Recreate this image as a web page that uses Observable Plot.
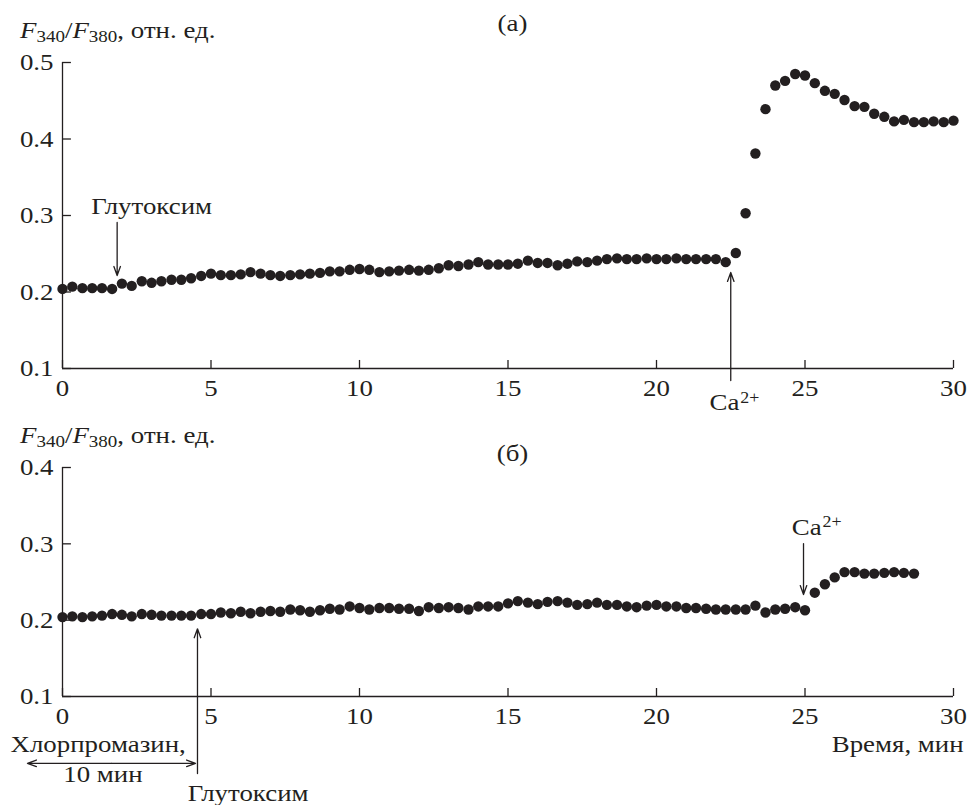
<!DOCTYPE html>
<html><head><meta charset="utf-8">
<script src="https://cdn.jsdelivr.net/npm/d3@7"></script>
<script src="https://cdn.jsdelivr.net/npm/@observablehq/plot@0.6"></script>
<style>
body{margin:0;background:#fff;}
#chart{width:971px;height:805px;position:relative;overflow:hidden;background:#fff;}
#chart svg{display:block;overflow:visible;font-family:"Liberation Serif","Times New Roman",serif;}
#chart svg text, #chart svg tspan{font-family:"Liberation Serif","Times New Roman",serif !important;}
</style></head><body><div id="chart"></div>
<script>
// Panel (а): time, min
const timeA = [0,0.33,0.67,1,1.33,1.67,2,2.33,2.67,3,3.33,3.67,4,4.33,4.67,5,5.33,5.67,6,6.33,6.67,7,7.33,7.67,8,8.33,8.67,9,9.33,9.67,10,10.33,10.67,11,11.33,11.67,12,12.33,12.67,13,13.33,13.67,14,14.33,14.67,15,15.33,15.67,16,16.33,16.67,17,17.33,17.67,18,18.33,18.67,19,19.33,19.67,20,20.33,20.67,21,21.33,21.67,22,22.33,22.67,23,23.33,23.67,24,24.33,24.67,25,25.33,25.67,26,26.33,26.67,27,27.33,27.67,28,28.33,28.67,29,29.33,29.67,30];
// Panel (а): F340/F380
const ratioA = [0.204,0.207,0.205,0.205,0.205,0.204,0.211,0.208,0.214,0.212,0.214,0.216,0.216,0.218,0.221,0.224,0.222,0.222,0.223,0.226,0.224,0.222,0.221,0.222,0.223,0.224,0.225,0.227,0.227,0.229,0.230,0.229,0.226,
0.227,0.228,0.229,0.228,0.229,0.231,0.235,0.234,0.236,0.239,0.236,0.236,0.236,0.237,0.241,0.238,0.238,0.235,0.237,0.240,0.239,0.241,0.243,0.244,0.243,0.243,0.244,0.243,0.243,0.244,0.243,0.243,
0.243,0.243,0.239,0.251,0.303,0.381,0.439,0.470,0.476,0.485,0.483,0.473,0.463,0.459,0.451,0.443,0.442,0.433,0.429,0.423,0.425,0.422,0.422,0.423,0.422,0.424];
// Panel (б): time, min
const timeB = [0,0.33,0.67,1,1.33,1.67,2,2.33,2.67,3,3.33,3.67,4,4.33,4.67,5,5.33,5.67,6,6.33,6.67,7,7.33,7.67,8,8.33,8.67,9,9.33,9.67,10,10.33,10.67,11,11.33,11.67,12,12.33,12.67,13,13.33,13.67,14,14.33,14.67,15,15.33,15.67,16,16.33,16.67,17,17.33,17.67,18,18.33,18.67,19,19.33,19.67,20,20.33,20.67,21,21.33,21.67,22,22.33,22.67,23,23.33,23.67,24,24.33,24.67,25,25.33,25.67,26,26.33,26.67,27,27.33,27.67,28,28.33,28.67];
// Panel (б): F340/F380
const ratioB = [0.204,0.205,0.204,0.205,0.206,0.208,0.207,0.205,0.208,0.207,0.206,0.206,0.206,0.206,0.208,0.208,0.210,0.209,0.211,0.209,0.211,0.212,0.211,0.214,0.213,0.211,0.213,0.215,0.214,0.218,0.216,0.214,
0.216,
0.216,0.215,0.215,0.212,0.217,0.216,0.217,0.216,0.214,0.218,0.218,0.218,0.222,0.225,0.223,0.221,0.224,0.225,0.223,0.220,0.221,0.223,0.220,0.220,0.218,0.217,0.219,0.220,0.218,0.218,0.216,
0.216,0.215,0.214,0.214,0.214,0.214,0.219,0.210,0.214,0.215,0.217,0.213,0.236,0.247,0.256,0.263,0.263,0.261,0.261,0.262,0.263,0.262,0.261];

const xTicks = [0,5,10,15,20,25,30];
const yTicksA = [0.1,0.2,0.3,0.4,0.5];
const yTicksB = [0.1,0.2,0.3,0.4];
const panelLabels = ["(а)", "(б)"];
const xLabel = "Время, мин";

const ink = "#231f20";
const font = "Liberation Serif";
const lw = 1.3;
const stretchX = 1.12;

const dataA = timeA.map((t, i) => ({t, v: ratioA[i]}));
const dataB = timeB.map((t, i) => ({t, v: ratioB[i]}));

function frame(yTicks, yMin, yMax) {
  return [
    Plot.ruleX([0], {y1: yMin, y2: yMax, stroke: ink, strokeWidth: lw}),
    Plot.ruleY([yMin], {x1: 0, x2: 30, stroke: ink, strokeWidth: lw}),
    Plot.ruleY(yTicks, {x1: 0, x2: 0.3, stroke: ink, strokeWidth: lw}),
    Plot.ruleX(xTicks, {y1: yMin, y2: yMin + 0.0105, stroke: ink, strokeWidth: lw})
  ];
}
const txt = (s, o) => Plot.text([s], {text: d => d, fill: ink, lineAnchor: "bottom", fontFamily: font, ...o});
const arr = (o) => Plot.arrow([0], {stroke: ink, strokeWidth: lw, headLength: 11, headAngle: 40, ...o});

const common = {
  width: 971,
  marginLeft: 62, marginRight: 18,
  style: {fontFamily: font, fontSize: "24px", color: ink, background: "white", overflow: "visible"}
};

const plotA = Plot.plot({
  ...common,
  height: 418, marginTop: 62, marginBottom: 50,
  x: {domain: [0, 30], ticks: xTicks, tickSize: 0, tickPadding: 10, tickFormat: d => String(d), label: null},
  y: {domain: [0.1, 0.5], ticks: yTicksA, tickSize: 0, tickPadding: 9, tickFormat: d3.format(".1f"), label: null},
  marks: [
    ...frame(yTicksA, 0.1, 0.5),
    Plot.dot(dataA, {x: "t", y: "v", r: 5.2, fill: ink, stroke: "none"}),
    txt(panelLabels[0], {x: 15.15, y: 0.5418, textAnchor: "middle"}),
    txt("Глутоксим", {x: 3.0, y: 0.3026, textAnchor: "middle"}),
    arr({x1: 1.84, y1: 0.291, x2: 1.84, y2: 0.2216}),
    arr({x1: 22.5, y1: 0.0843, x2: 22.5, y2: 0.2255}),
    txt("Ca", {x: 22.79, y: 0.0451, textAnchor: "end"}),
    txt("2+", {x: 22.82, y: 0.0555, textAnchor: "start", fontSize: 16})
  ]
});

const plotB = Plot.plot({
  ...common,
  height: 387, marginTop: 49, marginBottom: 109,
  x: {domain: [0, 30], ticks: xTicks, tickSize: 0, tickPadding: 10, tickFormat: d => String(d), label: null},
  y: {domain: [0.1, 0.4], ticks: yTicksB, tickSize: 0, tickPadding: 9, tickFormat: d3.format(".1f"), label: null},
  marks: [
    ...frame(yTicksB, 0.1, 0.4),
    Plot.dot(dataB, {x: "t", y: "v", r: 5.2, fill: ink, stroke: "none"}),
    txt(panelLabels[1], {x: 15.15, y: 0.409, textAnchor: "middle"}),
    txt("Ca", {x: 25.56, y: 0.3122, textAnchor: "end"}),
    txt("2+", {x: 25.59, y: 0.3227, textAnchor: "start", fontSize: 16}),
    arr({x1: 24.95, y1: 0.3004, x2: 24.95, y2: 0.2336}),
    txt(xLabel, {x: 30.34, y: 0.0279, textAnchor: "end"}),
    txt("Хлорпромазин,", {x: -1.75, y: 0.027, textAnchor: "start"}),
    arr({x1: 1.65, y1: 0.0125, x2: -1.18, y2: 0.0125}),
    arr({x1: 1.65, y1: 0.0125, x2: 4.48, y2: 0.0125}),
    txt("10 мин", {x: 1.36, y: -0.012, textAnchor: "middle"}),
    arr({x1: 4.545, y1: -0.0009, x2: 4.545, y2: 0.1887}),
    txt("Глутоксим", {x: 6.25, y: -0.0363, textAnchor: "middle"})
  ]
});

// widen glyphs slightly (about each text's anchor point) to match the reference typeface proportions
function stretch(svg, k) {
  d3.select(svg).selectAll("text").each(function() {
    const tr = this.getAttribute("transform");
    if (tr) {
      this.setAttribute("transform", tr + ` scale(${k},1)`);
    } else {
      const x = +(this.getAttribute("x") || 0);
      if (this.getAttribute("x") != null && !isNaN(x)) {
        this.setAttribute("x", x / k);
        this.setAttribute("transform", `scale(${k},1)`);
      }
    }
  });
}
stretch(plotA, stretchX);
stretch(plotB, stretchX);

function addYLabel(svg, y) {
  const t = d3.select(svg).append("text")
    .attr("transform", `translate(20,${y}) scale(${stretchX},1)`)
    .attr("text-anchor", "start")
    .attr("font-family", font).attr("font-size", 24).attr("fill", ink);
  t.append("tspan").attr("font-style", "italic").text("F");
  t.append("tspan").attr("font-size", 17).attr("dy", 4).text("340");
  t.append("tspan").attr("dy", -4).text("/");
  t.append("tspan").attr("font-style", "italic").text("F");
  t.append("tspan").attr("font-size", 17).attr("dy", 4).text("380");
  t.append("tspan").attr("dy", -4).text(", отн. ед.");
}
addYLabel(plotA, 38);
addYLabel(plotB, 25);

const chart = document.getElementById("chart");
chart.appendChild(plotA);
chart.appendChild(plotB);
</script></body></html>
